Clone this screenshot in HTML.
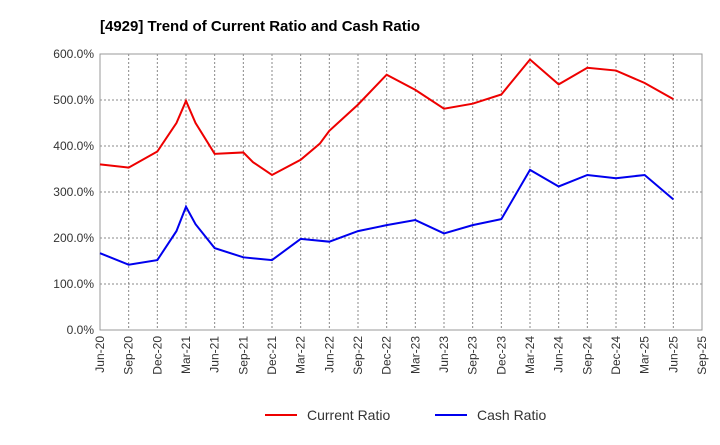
<!DOCTYPE html>
<html><head><meta charset="utf-8"><style>
body{margin:0;background:#fff;font-family:"Liberation Sans",sans-serif;}
</style></head><body>
<svg id="c" width="720" height="440" xmlns="http://www.w3.org/2000/svg">
<text x="100" y="31" font-size="15" font-weight="bold" fill="#000">[4929]  Trend of Current Ratio and Cash Ratio</text>
</svg>
<script>
const xLabels=["Jun-20","Sep-20","Dec-20","Mar-21","Jun-21","Sep-21","Dec-21","Mar-22","Jun-22","Sep-22","Dec-22","Mar-23","Jun-23","Sep-23","Dec-23","Mar-24","Jun-24","Sep-24","Dec-24","Mar-25","Jun-25","Sep-25"];
const yTicks=[0,100,200,300,400,500,600];
const months=[0,3,6,8,9,10,12,15,16,18,21,23,24,27,30,33,36,39,42,45,48,51,54,57,60];
const currentRatio=[360,353,388,450,498,450,383,386,365,337,370,405,433,490,555,522,481,492,512,588,534,570,564,537,502];
const cashMonths=[0,3,6,8,9,10,12,15,18,21,24,27,30,33,36,39,42,45,48,51,54,57,60];
const cashRatio=[167,142,152,215,268,230,178,158,152,198,192,215,228,239,210,228,241,348,312,337,330,337,284];
const svg=document.getElementById('c'),NS="http://www.w3.org/2000/svg";
const L=100,R=702,T=54,B=330,maxM=63;
const x=m=>L+(R-L)*m/maxM, y=v=>B-(B-T)*v/600;
function el(t,a,p){const e=document.createElementNS(NS,t);for(const k in a)e.setAttribute(k,a[k]);(p||svg).appendChild(e);return e;}
const bg=el('rect',{x:L,y:T,width:R-L,height:B-T,fill:'#fff',stroke:'#999'});


yTicks.forEach(v=>{
 if(v>0){const g=el('line',{x1:L,x2:R,y1:y(v),y2:y(v),stroke:'#888','stroke-dasharray':'2,2'});
 
 }
 const t=el('text',{x:L-6,y:y(v)+4,'text-anchor':'end','font-size':12,fill:'#333'});t.textContent=v.toFixed(1)+'%';
 
 
});
xLabels.forEach((lab,i)=>{
 const xx=x(i*3);
 if(i>0&&i<xLabels.length-1){const g=el('line',{x1:xx,x2:xx,y1:T,y2:B,stroke:'#888','stroke-dasharray':'2,2'});
 
 }
 const t=el('text',{x:xx+4,y:B+6,'text-anchor':'end','font-size':12,fill:'#333',transform:`rotate(-90 ${xx+4} ${B+6})`});t.textContent=lab;
 
 
});
const ax=el('rect',{x:L,y:T,width:R-L,height:B-T,fill:'none',stroke:'#999'});


function line(ms,vals,color,name){
 const p=el('polyline',{points:ms.map((m,i)=>x(m)+','+y(vals[i])).join(' '),fill:'none',stroke:color,'stroke-width':2});
 
 
}
line(months,currentRatio,'#e00','current-ratio-line');
line(cashMonths,cashRatio,'#00e','cash-ratio-line');
[[265,'#e00','Current Ratio','legend-current-ratio'],[435,'#00e','Cash Ratio','legend-cash-ratio']].forEach(([lx,c,txt,n])=>{
 const g=el('g',{});
 
 
 el('line',{x1:lx,x2:lx+32,y1:415,y2:415,stroke:c,'stroke-width':2},g);
 const t=el('text',{x:lx+42,y:420,'font-size':14,fill:'#333'},g);t.textContent=txt;
});
</script>
</body></html>
